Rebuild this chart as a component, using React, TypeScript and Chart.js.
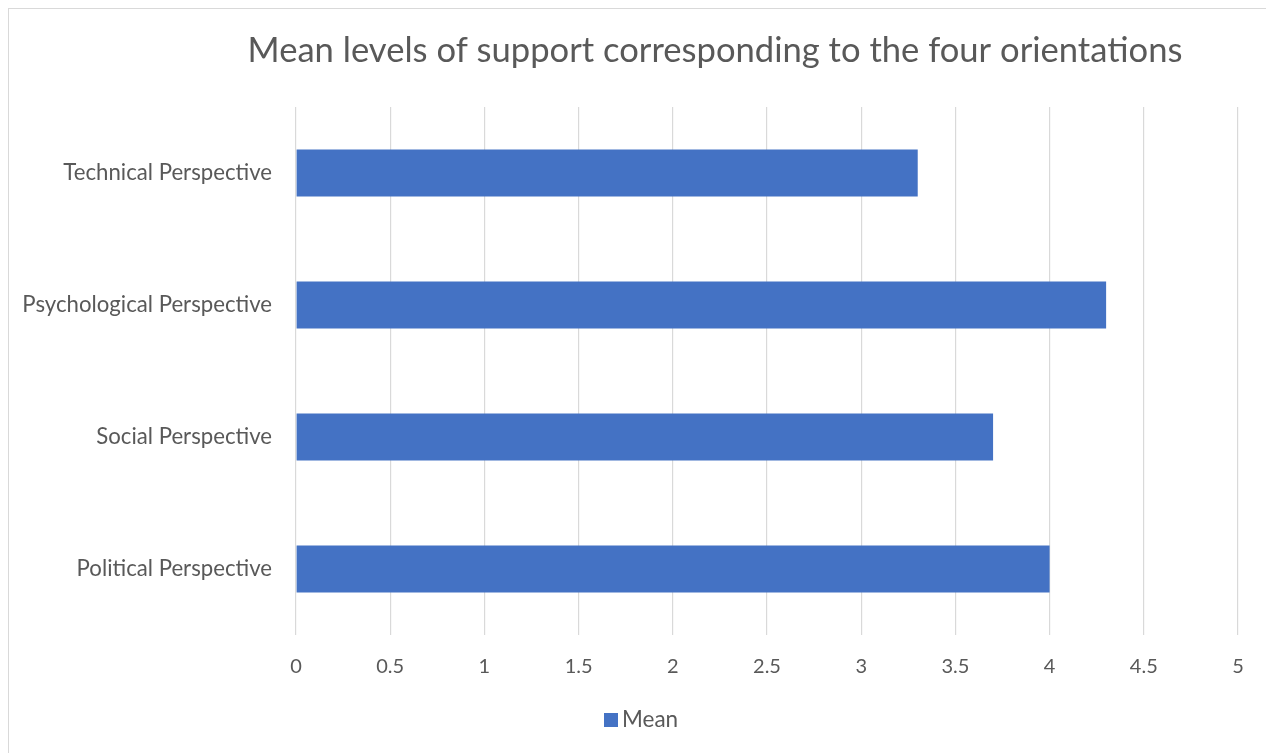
import React, { useEffect, useRef } from "react";
import { Chart, registerables } from "chart.js";

Chart.register(...registerables);

const categories = [
  "Technical Perspective",
  "Psychological Perspective",
  "Social Perspective",
  "Political Perspective",
];
const meanValues = [3.3, 4.3, 3.7, 4.0];
const seriesName = "Mean";
const titleText = "Mean levels of support corresponding to the four orientations";
const xTicks = [0, 0.5, 1, 1.5, 2, 2.5, 3, 3.5, 4, 4.5, 5];

const FONT = "Lato, 'Noto Sans', sans-serif";
const TEXT = "#595959";
const BAR = "#4472C4";

const overlayPlugin = {
  id: "overlay",
  afterDraw(chart: any) {
    const ctx = chart.ctx;
    ctx.save();
    // title
    ctx.fillStyle = TEXT;
    ctx.font = `34.6px ${FONT}`;
    ctx.textAlign = "center";
    ctx.textBaseline = "middle";
    ctx.fillText(titleText, 706, 42);
    // legend
    ctx.fillStyle = BAR;
    ctx.fillRect(595, 704, 14, 14);
    ctx.fillStyle = TEXT;
    ctx.font = `22.5px ${FONT}`;
    ctx.textAlign = "left";
    ctx.fillText(seriesName, 613, 711);
    ctx.restore();
  },
};

export default function App() {
  const ref = useRef<HTMLCanvasElement | null>(null);
  useEffect(() => {
    if (!ref.current) return;
    const chart = new Chart(ref.current, {
      type: "bar",
      data: {
        labels: categories,
        datasets: [
          {
            label: seriesName,
            data: meanValues,
            backgroundColor: BAR,
            categoryPercentage: 1,
            barPercentage: 0.355,
          },
        ],
      },
      options: {
        indexAxis: "y",
        animation: false,
        responsive: false,
        maintainAspectRatio: false,
        layout: { padding: { top: 98, right: 34, bottom: 0, left: 0 } },
        plugins: {
          legend: { display: false },
          title: { display: false },
          tooltip: { enabled: false },
        },
        scales: {
          x: {
            min: 0,
            max: 5,
            afterBuildTicks: (s: any) => {
              s.ticks = xTicks.map((v) => ({ value: v }));
            },
            afterFit: (s: any) => {
              s.height = 118;
            },
            grid: { color: "#d9d9d9", lineWidth: 1.2, drawTicks: false },
            border: { display: false },
            ticks: {
              color: TEXT,
              font: { family: FONT, size: 20 },
              padding: 20,
              callback: (v: any) => String(v),
            },
          },
          y: {
            afterFit: (s: any) => {
              s.width = 287;
            },
            grid: { display: false, drawTicks: false },
            border: { display: false },
            ticks: {
              color: TEXT,
              font: { family: FONT, size: 22.2 },
              padding: 24,
            },
          },
        },
      },
      plugins: [overlayPlugin],
    });
    return () => chart.destroy();
  }, []);

  return (
    <div
      style={{
        position: "relative",
        width: 1265,
        height: 745,
        boxSizing: "border-box",
        border: "1px solid #d9d9d9",
        borderBottom: "none",
        background: "#fff",
        overflow: "hidden",
      }}
    >
      <canvas
        ref={ref}
        width={1263}
        height={744}
        style={{ position: "absolute", left: 0, top: 0, width: 1263, height: 744 }}
      />
    </div>
  );
}
